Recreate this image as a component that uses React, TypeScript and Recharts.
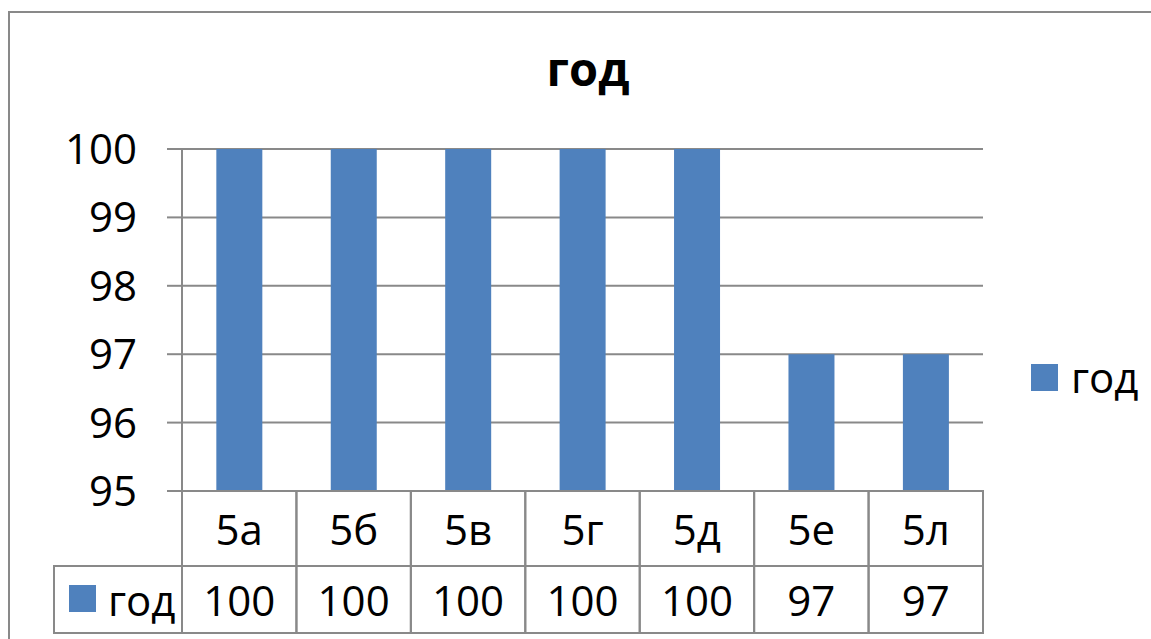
import React from 'react';
import { BarChart, Bar, XAxis, YAxis, CartesianGrid } from 'recharts';

const categories = ['5а', '5б', '5в', '5г', '5д', '5е', '5л'];
const values = [100, 100, 100, 100, 100, 97, 97];
const yTicks = [95, 96, 97, 98, 99, 100];
const seriesName = 'год';

const W = 1151;
const H = 639;
const MARGIN = { top: 149, right: 168, bottom: 6, left: 62 };
const Y_AXIS_W = 120;
const X_AXIS_H = 142;
const BAND = (W - MARGIN.left - Y_AXIS_W - MARGIN.right) / categories.length;
const BLUE = '#4F81BD';
const GRID = '#898989';
const FONT = '"Open Sans", "DejaVu Sans", sans-serif';
const FS = 42;
const ROW1 = 75;
const ROW2 = 67;

const data = categories.map((c, i) => ({ name: c, [seriesName]: values[i] }));

function TableTick(props: any) {
  const { x, y, payload, index } = props;
  const left = x - BAND / 2;
  return (
    <g>
      <rect x={left} y={y} width={BAND} height={ROW1 + ROW2} fill="none" stroke={GRID} strokeWidth={2} />
      <line x1={left} x2={left + BAND} y1={y + ROW1} y2={y + ROW1} stroke={GRID} strokeWidth={2} />
      <text x={x} y={y + ROW1 / 2} textAnchor="middle" dominantBaseline="central"
        fontFamily={FONT} fontSize={FS} fill="#000">{payload.value}</text>
      <text x={x} y={y + ROW1 + ROW2 / 2} textAnchor="middle" dominantBaseline="central"
        fontFamily={FONT} fontSize={FS} fill="#000">{values[index]}</text>
      {index === 0 && (
        <g>
          <rect x={left - 128} y={y + ROW1} width={128} height={ROW2} fill="none" stroke={GRID} strokeWidth={2} />
          <rect x={left - 113} y={y + ROW1 + 19} width={27} height={27} fill={BLUE} />
          <text x={left - 74} y={y + ROW1 + ROW2 / 2} dominantBaseline="central"
            fontFamily={FONT} fontSize={FS} fill="#000">{seriesName}</text>
        </g>
      )}
    </g>
  );
}

export default function App() {
  return (
    <div style={{ position: 'absolute', left: 0, top: 0, width: W, height: H, background: '#fff', overflow: 'hidden' }}>
      <div style={{ position: 'absolute', left: 8, top: 11, width: W, height: H, borderLeft: `2px solid ${GRID}`, borderTop: `2px solid ${GRID}` }} />
      <div style={{ position: 'absolute', left: 488, top: 38, width: 200, textAlign: 'center', fontFamily: FONT, fontWeight: 700, fontSize: 47, lineHeight: '60px' }}>
        {seriesName}
      </div>
      <div style={{ position: 'absolute', left: 1031, top: 352, display: 'flex', alignItems: 'center', fontFamily: FONT, fontSize: FS, lineHeight: '50px' }}>
        <div style={{ width: 27, height: 27, background: BLUE, marginRight: 13 }} />
        <span>{seriesName}</span>
      </div>
      <BarChart width={W} height={H} data={data} margin={MARGIN} barCategoryGap="30%" style={{ position: 'absolute', left: 0, top: 0 }}>
        <CartesianGrid horizontal vertical={false} stroke={GRID} strokeWidth={2} />
        <XAxis dataKey="name" height={X_AXIS_H} interval={0} tickSize={0} tickMargin={0}
          axisLine={{ stroke: GRID, strokeWidth: 2 }} tickLine={false} tick={<TableTick />} />
        <YAxis domain={[95, 100]} ticks={yTicks} width={Y_AXIS_W} allowDataOverflow
          tickSize={15} tickMargin={30} axisLine={{ stroke: GRID, strokeWidth: 2 }}
          tickLine={{ stroke: GRID, strokeWidth: 2 }}
          tick={{ fontFamily: FONT, fontSize: FS, fill: '#000' }} />
        <Bar dataKey={seriesName} fill={BLUE} isAnimationActive={false} />
      </BarChart>
    </div>
  );
}
